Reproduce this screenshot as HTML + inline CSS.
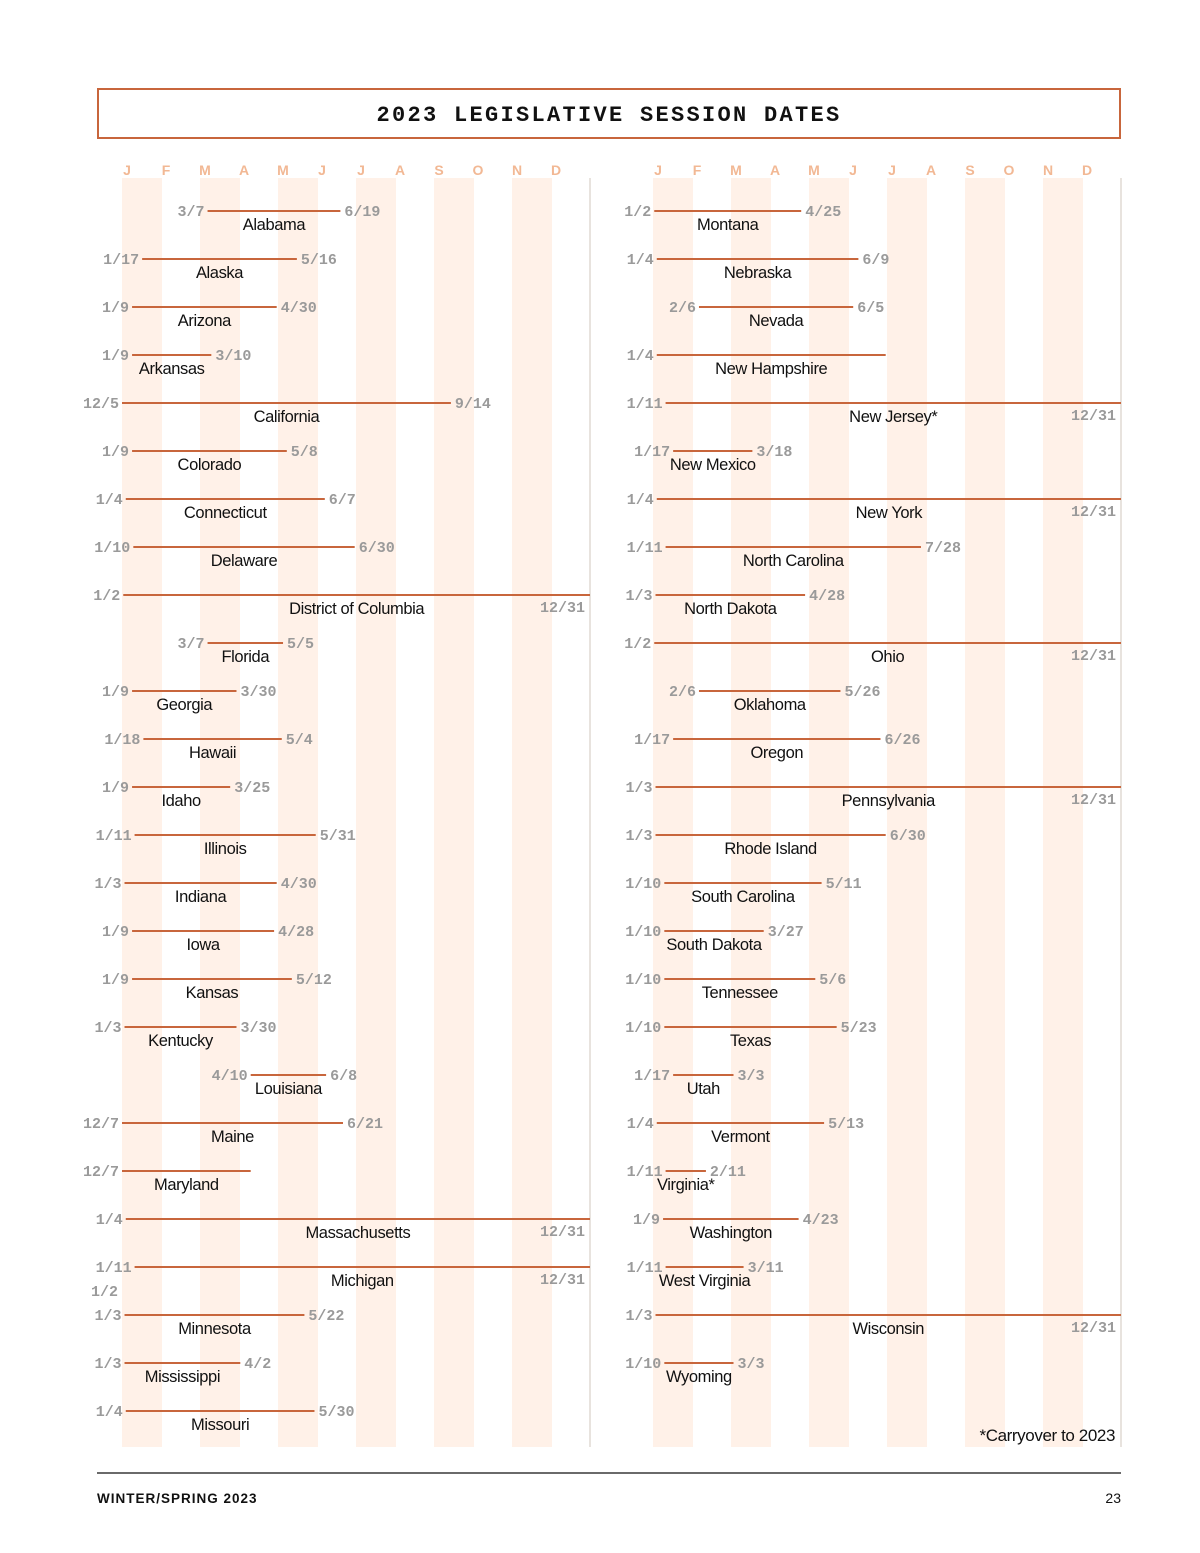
<!DOCTYPE html>
<html><head><meta charset="utf-8"><style>
body{margin:0;background:#fff;width:1200px;height:1553px;overflow:hidden;font-family:"Liberation Sans",sans-serif}
svg{display:block}
.lbl{font-family:"Liberation Mono","Liberation Sans",monospace;font-weight:bold;font-size:15px;fill:#9a9a9a}
.nm{font-family:"Liberation Sans",sans-serif;font-size:16.5px;fill:#111;letter-spacing:-0.4px}
.mo{font-family:"Liberation Sans",sans-serif;font-weight:bold;font-size:14px;fill:#f2b894}
</style></head><body>
<svg id="chart" width="1200" height="1553">
<rect x="98" y="89" width="1022" height="49" fill="none" stroke="#c8663c" stroke-width="2"/>
<text x="609" y="121" text-anchor="middle" font-family="Liberation Mono,monospace" font-weight="bold" font-size="22" letter-spacing="2.3" fill="#111">2023 LEGISLATIVE SESSION DATES</text>
<g id="panels"></g>
<line x1="97" y1="1473" x2="1121" y2="1473" stroke="#111" stroke-width="1.3"/>
<text x="97" y="1503" font-family="Liberation Sans" font-weight="bold" font-size="13.5" letter-spacing="1" fill="#111">WINTER/SPRING 2023</text>
<text x="1121" y="1503" text-anchor="end" font-family="Liberation Sans" font-size="14" fill="#111">23</text>
<text x="1115" y="1441" text-anchor="end" font-family="Liberation Sans" font-size="17" letter-spacing="-0.4" fill="#111">*Carryover to 2023</text>
</svg>
<script>
const months=["J","F","M","A","M","J","J","A","S","O","N","D"];
const leftStates=["Alabama","Alaska","Arizona","Arkansas","California","Colorado","Connecticut","Delaware","District of Columbia","Florida","Georgia","Hawaii","Idaho","Illinois","Indiana","Iowa","Kansas","Kentucky","Louisiana","Maine","Maryland","Massachusetts","Michigan","Minnesota","Mississippi","Missouri"];
const leftStarts=["3/7","1/17","1/9","1/9","12/5","1/9","1/4","1/10","1/2","3/7","1/9","1/18","1/9","1/11","1/3","1/9","1/9","1/3","4/10","12/7","12/7","1/4","1/11","1/3","1/3","1/4"];
const leftEnds=["6/19","5/16","4/30","3/10","9/14","5/8","6/7","6/30","12/31","5/5","3/30","5/4","3/25","5/31","4/30","4/28","5/12","3/30","6/8","6/21","4/10","12/31","12/31","5/22","4/2","5/30"];
const leftEndShown=[1,1,1,1,1,1,1,1,1,1,1,1,1,1,1,1,1,1,1,1,0,1,1,1,1,1];
const rightStates=["Montana","Nebraska","Nevada","New Hampshire","New Jersey*","New Mexico","New York","North Carolina","North Dakota","Ohio","Oklahoma","Oregon","Pennsylvania","Rhode Island","South Carolina","South Dakota","Tennessee","Texas","Utah","Vermont","Virginia*","Washington","West Virginia","Wisconsin","Wyoming"];
const rightStarts=["1/2","1/4","2/6","1/4","1/11","1/17","1/4","1/11","1/3","1/2","2/6","1/17","1/3","1/3","1/10","1/10","1/10","1/10","1/17","1/4","1/11","1/9","1/11","1/3","1/10"];
const rightEnds=["4/25","6/9","6/5","6/30","12/31","3/18","12/31","7/28","4/28","12/31","5/26","6/26","12/31","6/30","5/11","3/27","5/6","5/23","3/3","5/13","2/11","4/23","3/11","12/31","3/3"];
const rightEndShown=[1,1,1,0,1,1,1,1,1,1,1,1,1,1,1,1,1,1,1,1,1,1,1,1,1];
const dim=[31,28,31,30,31,30,31,31,30,31,30,31];
const MW=39,Y0=211,DY=48;
const NS="http://www.w3.org/2000/svg";
const g=document.getElementById('panels');
function mk(t,a,txt){const e=document.createElementNS(NS,t);for(const k in a)e.setAttribute(k,a[k]);if(txt!==undefined)e.textContent=txt;g.appendChild(e);return e;}
function xOf(x0,s,isStart){const[m,d]=s.split('/').map(Number);if(isStart&&m===12)return x0;if(!isStart&&m===12&&d===31)return x0+12*MW;return x0+((m-1)+(d-1)/dim[m-1])*MW;}
function panel(x0,states,starts,ends,shown,side){
  for(let i=0;i<12;i++){
    if(i%2===0){const r=mk('rect',{x:x0+i*MW,y:178,width:MW+1,height:1269,fill:'#fff1e8'});
      
      }
    const t=mk('text',{x:x0+i*MW+5,y:175,'text-anchor':'middle',class:'mo'},months[i]);
    
    
  }
  const dv=mk('line',{x1:x0+12*MW,y1:178,x2:x0+12*MW,y2:1447,stroke:'#d8d0c8','stroke-width':1.2});
  
  
  states.forEach((s,i)=>{
    const y=Y0+i*DY,xs=xOf(x0,starts[i],true),xe=xOf(x0,ends[i],false);
    const ln=mk('line',{x1:xs,y1:y,x2:xe,y2:y,stroke:'#c8663c','stroke-width':2});
    
    
    const sl=mk('text',{x:xs-3,y:y+5,'text-anchor':'end',class:'lbl'},starts[i]);
    
    
    if(shown[i]){
      let el;
      if(ends[i]==='12/31')el=mk('text',{x:x0+12*MW-5,y:y+17,'text-anchor':'end',class:'lbl'},ends[i]);
      else el=mk('text',{x:xe+4,y:y+5,class:'lbl'},ends[i]);
      
      
    }
    const nm=mk('text',{x:(xs+xe)/2,y:y+19,'text-anchor':'middle',class:'nm'},s);
    
    
  });
}
panel(122,leftStates,leftStarts,leftEnds,leftEndShown,'left');
panel(653,rightStates,rightStarts,rightEnds,rightEndShown,'right');
const ex=mk('text',{x:118,y:1296,'text-anchor':'end',class:'lbl'},'1/2');


</script>
</body></html>
